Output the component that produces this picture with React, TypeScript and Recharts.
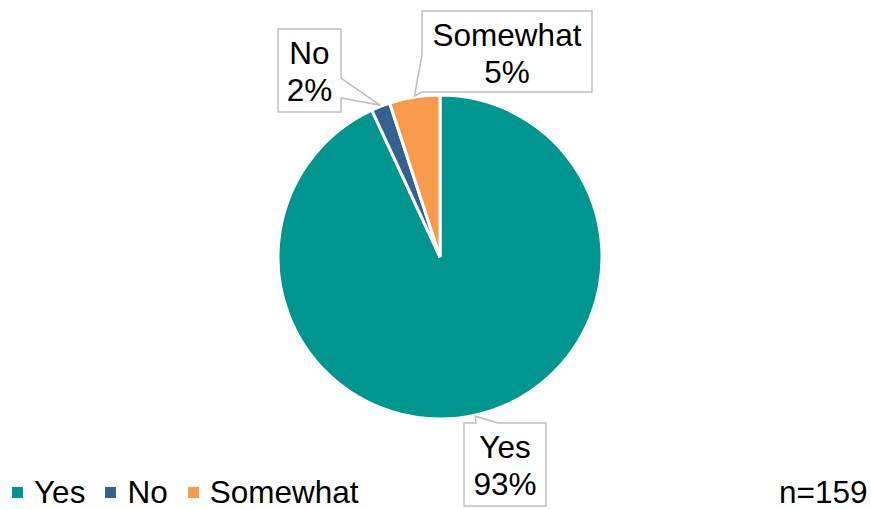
import { PieChart, Pie, Cell, Legend } from 'recharts'

const categories = ['Yes', 'No', 'Somewhat']
const counts = [148, 3, 8]
const percentLabels = ['93%', '2%', '5%']
const sampleNote = 'n=159'

const colors = ['#009690', '#34618F', '#F79A4B']
const font = '"Liberation Sans", Arial, sans-serif'
const fs = 31.5

const data = categories.map((name, i) => ({ name, value: counts[i], pct: percentLabels[i] }))

// callout boxes (layout only)
const boxes = [
  { x: 464, y: 423, w: 82, h: 83, side: 'top', a1: 476, a2: 498 },
  { x: 278, y: 29, w: 63, h: 83, side: 'right', a1: 78, a2: 98 },
  { x: 422, y: 11, w: 170, h: 81, side: 'left', a1: 55, a2: 92 },
]

function calloutPath(b: any, tx: number, ty: number) {
  const { x, y, w, h, a1, a2 } = b
  if (b.side === 'top')
    return `M${x},${y} L${a1},${y} L${tx},${ty} L${a2},${y} L${x + w},${y} L${x + w},${y + h} L${x},${y + h} Z`
  if (b.side === 'right')
    return `M${x},${y} L${x + w},${y} L${x + w},${a1} L${tx},${ty} L${x + w},${a2} L${x + w},${y + h} L${x},${y + h} Z`
  return `M${x},${y} L${x + w},${y} L${x + w},${y + h} L${x},${y + h} L${x},${a2} L${tx},${ty} L${x},${a1} Z`
}

const RADIAN = Math.PI / 180

function renderLabel(props: any) {
  const { cx, cy, midAngle, outerRadius, index } = props
  const b = boxes[index]
  const tx = cx + (outerRadius + 1) * Math.cos(-midAngle * RADIAN)
  const ty = cy + (outerRadius + 1) * Math.sin(-midAngle * RADIAN)
  const mid = b.x + b.w / 2
  return (
    <g key={`lbl-${index}`}>
      <path d={calloutPath(b, tx, ty)} fill="#fff" stroke="#BFBFBF" strokeWidth={1.5} />
      <text x={mid} y={b.y + 35} textAnchor="middle" fontFamily={font} fontSize={fs} fill="#000">
        {data[index].name}
      </text>
      <text x={mid} y={b.y + 72} textAnchor="middle" fontFamily={font} fontSize={fs} fill="#000">
        {data[index].pct}
      </text>
    </g>
  )
}

function LegendContent() {
  return (
    <div style={{ display: 'flex', alignItems: 'center', fontFamily: font, fontSize: fs, color: '#000', lineHeight: '34px' }}>
      {categories.map((name, i) => (
        <div key={name} style={{ display: 'flex', alignItems: 'center', marginRight: 20 }}>
          <span style={{ width: 11, height: 11, background: colors[i], display: 'inline-block', marginRight: 11 }} />
          <span>{name}</span>
        </div>
      ))}
    </div>
  )
}

export default function App() {
  return (
    <div style={{ position: 'absolute', left: 0, top: 0, width: 871, height: 509, background: '#fff' }}>
      <PieChart width={871} height={509} margin={{ top: 0, right: 0, bottom: 0, left: 0 }}>
        <Pie
          data={data}
          dataKey="value"
          nameKey="name"
          cx={440}
          cy={257}
          outerRadius={162}
          startAngle={90}
          endAngle={-270}
          stroke="#fff"
          strokeWidth={3}
          label={renderLabel}
          labelLine={false}
          isAnimationActive={false}
        >
          {data.map((d, i) => (
            <Cell key={d.name} fill={colors[i]} />
          ))}
        </Pie>
        <Legend
          content={<LegendContent />}
          wrapperStyle={{ position: 'absolute', left: 12, top: 475, bottom: 'auto', width: 440 }}
        />
      </PieChart>
      <div
        style={{ position: 'absolute', left: 779, top: 475, fontFamily: font, fontSize: fs, color: '#000', lineHeight: '34px' }}
      >
        {sampleNote}
      </div>
    </div>
  )
}
